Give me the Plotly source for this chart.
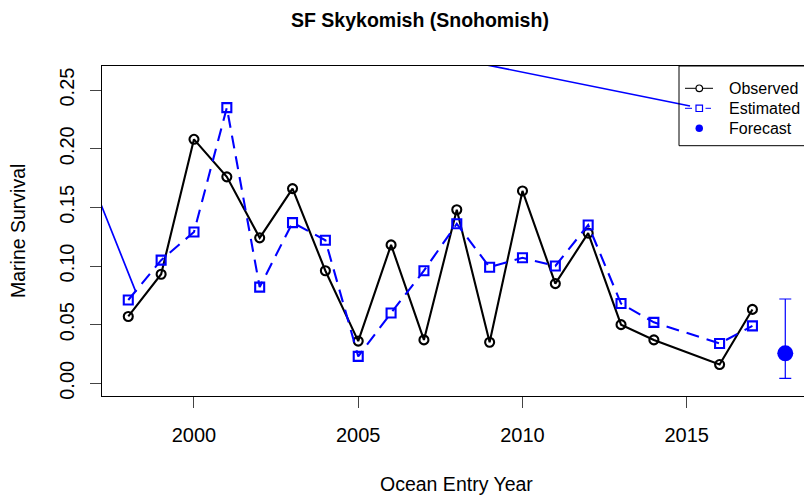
import plotly.graph_objects as go

# ---- data ----
years = [1998, 1999, 2000, 2001, 2002, 2003, 2004, 2005, 2006, 2007, 2008,
         2009, 2010, 2011, 2012, 2013, 2014, 2016, 2017]
observed = [0.057, 0.093, 0.208, 0.176, 0.124, 0.166, 0.096, 0.036, 0.118,
            0.037, 0.148, 0.035, 0.164, 0.085, 0.128, 0.050, 0.037, 0.016, 0.063]
estimated = [0.071, 0.105, 0.129, 0.235, 0.082, 0.137, 0.122, 0.023, 0.060,
             0.096, 0.136, 0.099, 0.107, 0.100, 0.135, 0.068, 0.052, 0.034, 0.049]
forecast_year = [2018]
forecast = [0.0256]
forecast_hi = [0.0719]
forecast_lo = [0.0043]
stray_x = [1998.23, 1994.3, 2015.10]
stray_y = [0.078, 0.354, 0.2364]

x_ticks = [2000, 2005, 2010, 2015]
y_ticks = [0.00, 0.05, 0.10, 0.15, 0.20, 0.25]
y_tick_text = ["0.00", "0.05", "0.10", "0.15", "0.20", "0.25"]

W, H = 804, 495
L, R, T, B = 102, 0, 66, 99
PW, PH = W - L - R, H - T - B
FONT = "Liberation Sans, Arial, Helvetica, sans-serif"


def xp(px):
    return (px - L) / PW


def yp(py):
    return (H - B - py) / PH


fig = go.Figure()

fig.add_trace(go.Scatter(
    x=stray_x, y=stray_y, mode="lines",
    line=dict(color="#0000FF", width=1.7), showlegend=False, hoverinfo="skip"))

fig.add_trace(go.Scatter(
    x=years, y=observed, mode="lines+markers", name="Observed",
    line=dict(color="black", width=2.1),
    marker=dict(symbol="circle-open", size=9, color="black", line=dict(width=2.1)),
    showlegend=False))

fig.add_trace(go.Scatter(
    x=years, y=estimated, mode="lines+markers", name="Estimated",
    line=dict(color="#0000FF", width=2.1, dash="13px,8px"),
    marker=dict(symbol="square-open", size=9, color="#0000FF", line=dict(width=2.1)),
    showlegend=False))

fig.add_trace(go.Scatter(
    x=forecast_year, y=forecast, mode="markers", name="Forecast",
    marker=dict(symbol="circle", size=16, color="#0000FF"),
    error_y=dict(type="data", symmetric=False,
                 array=[h - f for h, f in zip(forecast_hi, forecast)],
                 arrayminus=[f - l for f, l in zip(forecast, forecast_lo)],
                 color="#0000FF", thickness=1.2, width=6),
    showlegend=False, cliponaxis=False))

# ---- hand-drawn legend (R style) ----
shapes = []
annotations = []
shapes.append(dict(type="rect", xref="paper", yref="paper",
                   x0=xp(679), x1=xp(830), y0=yp(145.7), y1=yp(66),
                   line=dict(color="black", width=1), fillcolor="rgba(0,0,0,0)"))
rows = [88.3, 108.3, 128.3]
labels = ["Observed", "Estimated", "Forecast"]
# Observed sample
shapes.append(dict(type="line", xref="paper", yref="paper",
                   x0=xp(685), x1=xp(713), y0=yp(rows[0]), y1=yp(rows[0]),
                   line=dict(color="black", width=1)))
shapes.append(dict(type="circle", xref="paper", yref="paper",
                   x0=xp(696), x1=xp(702.6), y0=yp(rows[0] + 3.3), y1=yp(rows[0] - 3.3),
                   line=dict(color="black", width=1.2), fillcolor="white"))
# Estimated sample
shapes.append(dict(type="line", xref="paper", yref="paper",
                   x0=xp(685), x1=xp(692), y0=yp(rows[1]), y1=yp(rows[1]),
                   line=dict(color="#0000FF", width=1)))
shapes.append(dict(type="line", xref="paper", yref="paper",
                   x0=xp(705.5), x1=xp(711), y0=yp(rows[1]), y1=yp(rows[1]),
                   line=dict(color="#0000FF", width=1)))
shapes.append(dict(type="rect", xref="paper", yref="paper",
                   x0=xp(696), x1=xp(702.5), y0=yp(rows[1] + 3.2), y1=yp(rows[1] - 3.2),
                   line=dict(color="#0000FF", width=1.2), fillcolor="white"))
# Forecast sample
shapes.append(dict(type="circle", xref="paper", yref="paper",
                   x0=xp(695.5), x1=xp(703), y0=yp(rows[2] + 3.8), y1=yp(rows[2] - 3.8),
                   line=dict(color="#0000FF", width=0), fillcolor="#0000FF"))
for r, lab in zip(rows, labels):
    annotations.append(dict(xref="paper", yref="paper", x=xp(727), y=yp(r),
                            text=lab, showarrow=False, xanchor="left", yanchor="middle",
                            font=dict(family=FONT, size=16, color="black")))

# titles
annotations.append(dict(xref="paper", yref="paper", x=xp(420), y=yp(20),
                        text="<b>SF Skykomish (Snohomish)</b>", showarrow=False,
                        xanchor="center", yanchor="middle",
                        font=dict(family=FONT, size=19.5, color="black")))
annotations.append(dict(xref="paper", yref="paper", x=xp(456), y=yp(484),
                        text="Ocean Entry Year", showarrow=False,
                        xanchor="center", yanchor="middle",
                        font=dict(family=FONT, size=19.5, color="black")))
annotations.append(dict(xref="paper", yref="paper", x=xp(18), y=yp(231),
                        text="Marine Survival", showarrow=False, textangle=-90,
                        xanchor="center", yanchor="middle",
                        font=dict(family=FONT, size=19.5, color="black")))

fig.update_layout(
    width=W, height=H,
    margin=dict(l=L, r=R, t=T, b=B, pad=0),
    paper_bgcolor="white", plot_bgcolor="white",
    font=dict(family=FONT, size=20, color="black"),
    shapes=shapes, annotations=annotations,
    showlegend=False,
    xaxis=dict(range=[1997.2, 2018.57], tickmode="array", tickvals=x_ticks,
               ticks="outside", ticklen=11, tickwidth=1, tickcolor="#444",
               showline=True, linecolor="black", linewidth=1, mirror=True,
               showgrid=False, zeroline=False, ticklabelstandoff=10,
               tickfont=dict(family=FONT, size=20)),
    yaxis=dict(range=[-0.0108, 0.2705], tickmode="array", tickvals=y_ticks,
               ticktext=y_tick_text, tickangle=-90,
               ticks="outside", ticklen=11, tickwidth=1, tickcolor="#444",
               showline=True, linecolor="black", linewidth=1, mirror=False,
               showgrid=False, zeroline=False, ticklabelstandoff=8,
               tickfont=dict(family=FONT, size=20)),
)

fig.write_html("out.html",
               config={"displayModeBar": False},
               post_script="document.body.style.margin='0px';"
                           "document.body.style.overflow='hidden';")
